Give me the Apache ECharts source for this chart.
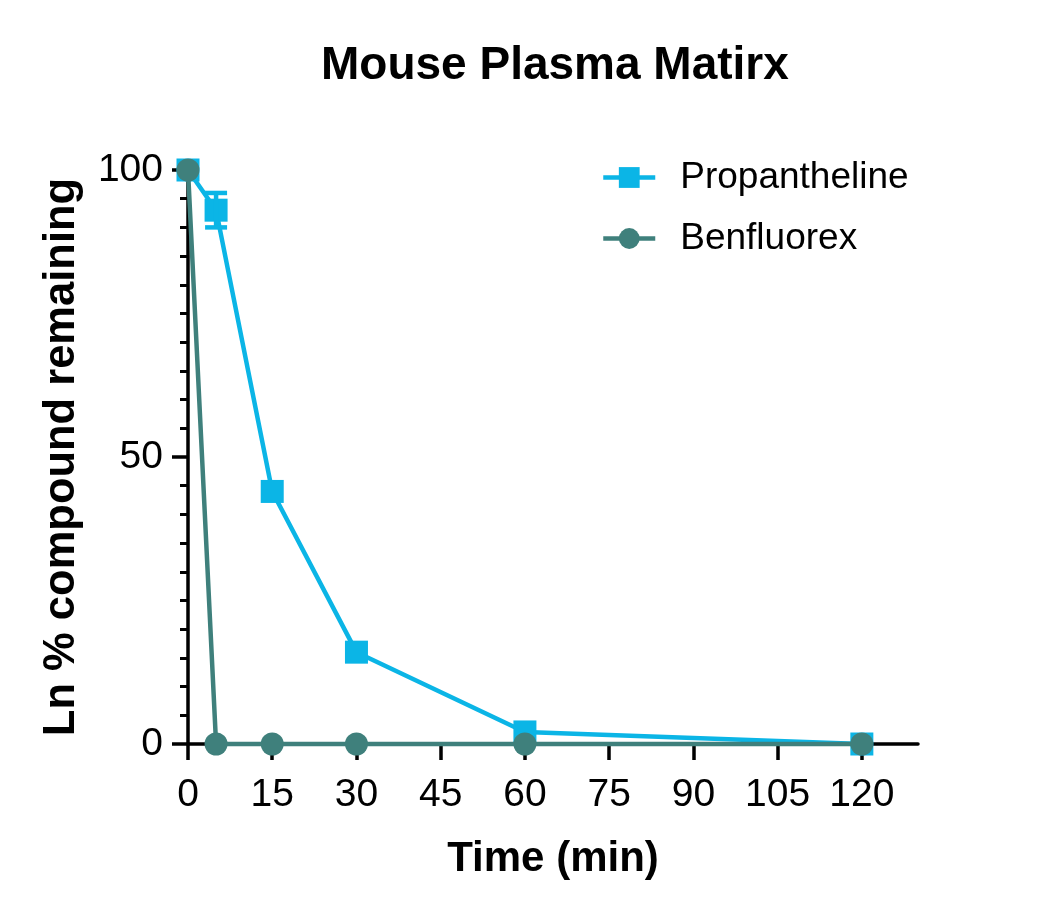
<!DOCTYPE html>
<html>
<head>
<meta charset="utf-8">
<script src="https://cdn.jsdelivr.net/npm/echarts@6/dist/echarts.min.js"></script>
<style>
  html, body { margin: 0; padding: 0; background: #fff; }
  #chart { width: 1050px; height: 914px; }
</style>
</head>
<body>
<div id="chart"></div>
<script type="text/javascript">
// data
var times = [0, 5, 15, 30, 60, 120];
var propantheline = [100, 93, 44, 16, 2.1, 0];
var propanthelineSD = [0, 3, 0, 0, 0, 0];
var benfluorex = [100, 0, 0, 0, 0, 0];
var xTicks = [0, 15, 30, 45, 60, 75, 90, 105, 120];

var cyan = '#0BB5E6';
var teal = '#3F807C';
var font = 'Liberation Sans, Arial, sans-serif';

function pairs(xs, ys) {
    var out = [];
    for (var i = 0; i < xs.length; i++) out.push([xs[i], ys[i]]);
    return out;
}

var errData = [];
for (var i = 0; i < times.length; i++) {
    if (propanthelineSD[i] > 0) {
        errData.push([times[i], propantheline[i] - propanthelineSD[i], propantheline[i] + propanthelineSD[i]]);
    }
}

var myChart = echarts.init(document.getElementById('chart'));
var option = {
    backgroundColor: '#fff',
    animation: false,
    title: {
        text: 'Mouse Plasma Matirx',
        left: 316,
        top: 38,
        textStyle: { fontFamily: font, fontSize: 46, fontWeight: 'bold', color: '#000' }
    },
    legend: {
        orient: 'vertical',
        left: 596,
        top: 154,
        itemWidth: 52,
        itemHeight: 26,
        itemGap: 24,
        data: ['Propantheline', 'Benfluorex'],
        lineStyle: { width: 4.5 },
        textStyle: { fontFamily: font, fontSize: 37, color: '#000', padding: [0, 0, 0, 20] }
    },
    grid: {
        left: 188, top: 170, right: 132, bottom: 170,
        containLabel: false,
        outerBoundsMode: 'none'
    },
    xAxis: {
        type: 'value',
        min: 0,
        max: 130,
        interval: 15,
        name: 'Time (min)',
        nameLocation: 'middle',
        nameGap: 94,
        nameTextStyle: { fontFamily: font, fontSize: 42, fontWeight: 'bold', color: '#000' },
        axisLine: { lineStyle: { color: '#000', width: 3.5 } },
        axisTick: { show: true, length: 16, lineStyle: { color: '#000', width: 3.5 }, customValues: xTicks },
        axisLabel: { fontFamily: font, fontSize: 39, color: '#000', margin: 32, customValues: xTicks },
        splitLine: { show: false }
    },
    yAxis: {
        type: 'value',
        min: 0,
        max: 100,
        interval: 50,
        name: 'Ln % compound remaining',
        nameLocation: 'middle',
        nameGap: 104,
        nameTextStyle: { fontFamily: font, fontSize: 43.5, fontWeight: 'bold', color: '#000' },
        axisLine: { show: true, lineStyle: { color: '#000', width: 3.5 } },
        axisTick: { show: true, length: 16, lineStyle: { color: '#000', width: 3.5 } },
        minorTick: { show: true, splitNumber: 10, length: 8, lineStyle: { color: '#000', width: 3 } },
        axisLabel: { fontFamily: font, fontSize: 39, color: '#000', margin: 25 },
        splitLine: { show: false }
    },
    series: [
        {
            name: 'Propantheline',
            type: 'line',
            data: pairs(times, propantheline),
            symbol: 'rect',
            symbolSize: 23,
            clip: false,
            itemStyle: { color: cyan },
            lineStyle: { color: cyan, width: 4.5 },
            z: 2
        },
        {
            name: 'Propantheline SD',
            type: 'custom',
            data: errData,
            clip: false,
            z: 3,
            renderItem: function (params, api) {
                var x = api.value(0);
                var lo = api.coord([x, api.value(1)]);
                var hi = api.coord([x, api.value(2)]);
                var hw = 11;
                var style = { stroke: cyan, lineWidth: 4.5 };
                return {
                    type: 'group',
                    children: [
                        { type: 'line', shape: { x1: lo[0], y1: lo[1], x2: hi[0], y2: hi[1] }, style: style },
                        { type: 'line', shape: { x1: hi[0] - hw, y1: hi[1], x2: hi[0] + hw, y2: hi[1] }, style: style },
                        { type: 'line', shape: { x1: lo[0] - hw, y1: lo[1], x2: lo[0] + hw, y2: lo[1] }, style: style }
                    ]
                };
            }
        },
        {
            name: 'Benfluorex',
            type: 'line',
            data: pairs(times, benfluorex),
            symbol: 'circle',
            symbolSize: 23,
            clip: false,
            itemStyle: { color: teal },
            lineStyle: { color: teal, width: 4.5 },
            z: 4
        }
    ]
};
myChart.setOption(option);
</script>
</body>
</html>
